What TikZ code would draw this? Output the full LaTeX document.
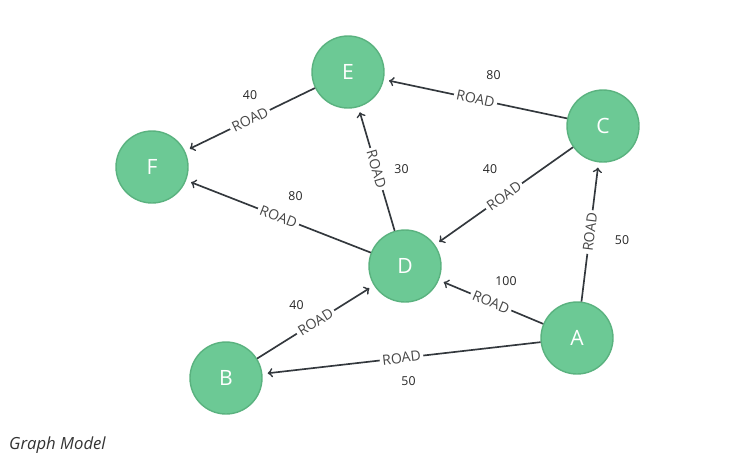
\documentclass[tikz,border=0pt]{standalone}
\usepackage{fontspec}
\setmainfont{Open Sans}
\usetikzlibrary{arrows}
\definecolor{citygreen}{HTML}{6CC995}
\definecolor{cityborder}{HTML}{5AB27F}
\definecolor{roadgray}{HTML}{33383D}

\begin{document}
\begin{tikzpicture}[x=0.02cm, y=-0.02cm,
    city/.style={circle, fill=citygreen, draw=cityborder, line width=0.8pt, minimum size=1.44cm, inner sep=0pt, text=white, font=\fontsize{12}{14}\selectfont},
    road/.style={->, >=to, draw=roadgray, line width=0.95pt, shorten >=3pt},
    roadlbl/.style={sloped, fill=white, inner sep=1.5pt, text=black!72, font=\fontsize{8}{10}\selectfont},
    dist/.style={text=black!85, font=\fontsize{7}{8}\selectfont}]
    \useasboundingbox (0,0) rectangle (736,458);

    % cities
    \node[city] (E) at (348,72) {E};
    \node[city] (F) at (152,167) {F};
    \node[city] (C) at (603,126) {C};
    \node[city] (D) at (405,266) {D};
    \node[city] (B) at (226,378) {B};
    \node[city] (A) at (577,338) {A};

    % roads
    \draw[road] (E) -- node[roadlbl] (rEF) {ROAD} node[dist, shift={(0,-24)}] (dEF) {40} (F);
    \draw[road] (C) -- node[roadlbl] (rCE) {ROAD} node[dist, shift={(18,-24)}] (dCE) {80} (E);
    \draw[road] (D) -- node[roadlbl] (rDE) {ROAD} node[dist, shift={(25,0)}] (dDE) {30} (E);
    \draw[road] (C) -- node[roadlbl] (rCD) {ROAD} node[dist, shift={(-14,-27)}] (dCD) {40} (D);
    \draw[road] (D) -- node[roadlbl] (rDF) {ROAD} node[dist, shift={(17,-20)}] (dDF) {80} (F);
    \draw[road] (B) -- node[roadlbl] (rBD) {ROAD} node[dist, shift={(-19,-17)}] (dBD) {40} (D);
    \draw[road] (A) -- node[roadlbl] (rAD) {ROAD} node[dist, shift={(15,-21)}] (dAD) {100} (D);
    \draw[road] (A) -- node[roadlbl] (rAC) {ROAD} node[dist, shift={(32,8)}] (dAC) {50} (C);
    \draw[road] (A) -- node[roadlbl] (rAB) {ROAD} node[dist, shift={(7,23)}] (dAB) {50} (B);

    \node[anchor=west, text=black!80, font=\fontsize{9.5}{11}\selectfont\itshape] (caption) at (3,445) {Graph Model};
\end{tikzpicture}
\end{document}
